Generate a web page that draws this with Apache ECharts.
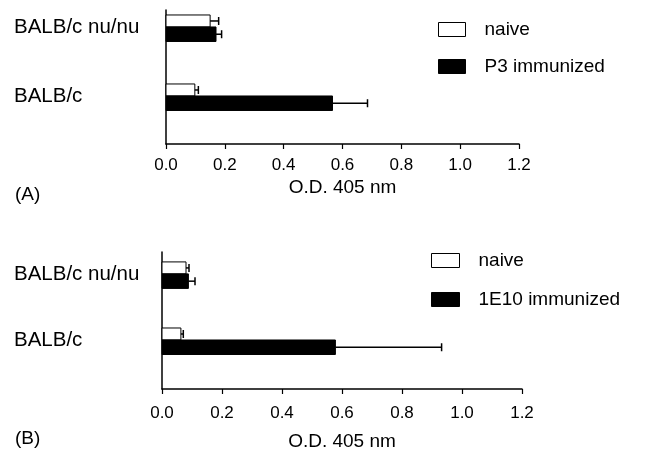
<!DOCTYPE html>
<html>
<head>
<meta charset="utf-8">
<script src="https://cdn.jsdelivr.net/npm/echarts@6/dist/echarts.min.js"></script>
<style>
  html, body { margin: 0; padding: 0; background: #fff; }
  #chart { width: 645px; height: 454px; }
</style>
</head>
<body>
<div id="chart"></div>
<script>
// data
const groups = ["BALB/c nu/nu", "BALB/c"];
const xTicks = [0, 0.2, 0.4, 0.6, 0.8, 1.0, 1.2];

// panel A
const naiveA = [0.15, 0.098];
const naiveErrA = [0.029, 0.012];
const p3A = [0.17, 0.566];
const p3ErrA = [0.019, 0.119];

// panel B
const naiveB = [0.08, 0.063];
const naiveErrB = [0.01, 0.008];
const e10B = [0.088, 0.578];
const e10ErrB = [0.022, 0.354];

// layout: where each group sits on the (hidden) 0..3 vertical scale
const groupYA = [2.62, 1.075];
const groupYB = [2.52, 1.073];

const FONT = "'Liberation Sans', Arial, Helvetica, sans-serif";
const NAIVE_H = 12;
const IMM_H = 14.5;

function rows(values, errs, ys) {
  return values.map((v, i) => [v, ys[i], errs[i]]);
}

function barRenderer(kind) {
  return function (params, api) {
    const v = api.value(0);
    const y = api.value(1);
    const e = api.value(2);
    const start = api.coord([0, y]);
    const end = api.coord([v, y]);
    const errEnd = api.coord([v + e, y]);
    const h = kind === "naive" ? NAIVE_H : IMM_H;
    const top = kind === "naive" ? start[1] - h : start[1];
    const cy = top + h / 2;
    return {
      type: "group",
      children: [
        {
          type: "rect",
          shape: { x: start[0], y: top, width: end[0] - start[0], height: h },
          style: { fill: kind === "naive" ? "#fff" : "#000", stroke: "#000", lineWidth: 1 }
        },
        {
          type: "line",
          shape: { x1: end[0], y1: cy, x2: errEnd[0], y2: cy },
          style: { stroke: "#000", lineWidth: 1.5 }
        },
        {
          type: "line",
          shape: { x1: errEnd[0], y1: cy - 4, x2: errEnd[0], y2: cy + 4 },
          style: { stroke: "#000", lineWidth: 1.5 }
        }
      ]
    };
  };
}

function xAxisFor(gridIndex, labelMargin, nameGap) {
  return {
    gridIndex: gridIndex,
    type: "value",
    min: 0,
    max: 1.2,
    interval: 0.2,
    name: "O.D. 405 nm",
    nameLocation: "middle",
    nameGap: nameGap,
    nameTextStyle: { color: "#000", fontSize: 19, fontFamily: FONT },
    axisLine: { show: true, lineStyle: { color: "#000", width: 1.5 } },
    axisTick: { show: true, length: 5, lineStyle: { color: "#000", width: 1.2 } },
    splitLine: { show: false },
    axisLabel: {
      color: "#000",
      fontSize: 17,
      fontFamily: FONT,
      margin: labelMargin,
      customValues: xTicks,
      formatter: (v) => v.toFixed(1)
    }
  };
}

function yAxisFor(gridIndex, ys, labelMargin) {
  return {
    gridIndex: gridIndex,
    type: "value",
    min: 0,
    max: 3,
    axisLine: { show: true, lineStyle: { color: "#000", width: 1.5 } },
    axisTick: { show: false },
    splitLine: { show: false },
    axisLabel: {
      color: "#000",
      fontSize: 20.5,
      fontFamily: FONT,
      align: "left",
      margin: labelMargin,
      customValues: ys,
      formatter: (v) => {
        const i = ys.findIndex((y) => Math.abs(y - v) < 1e-6);
        return i >= 0 ? groups[i] : "";
      }
    }
  };
}

const legendText = { color: "#000", fontSize: 19, fontFamily: FONT, padding: [0, 0, 0, 14] };

const chart = echarts.init(document.getElementById("chart"), null, { renderer: "canvas" });

const option = {
  backgroundColor: "#fff",
  animation: false,
  textStyle: { fontFamily: FONT },
  title: [
    { text: "(A)", left: 10, top: 180, textStyle: { color: "#000", fontSize: 19, fontWeight: "normal", fontFamily: FONT } },
    { text: "(B)", left: 10, top: 424, textStyle: { color: "#000", fontSize: 19, fontWeight: "normal", fontFamily: FONT } }
  ],
  legend: [
    {
      orient: "vertical",
      left: 433,
      top: 15,
      itemWidth: 27,
      itemHeight: 14,
      itemGap: 18,
      textStyle: legendText,
      data: [
        { name: "naive", icon: "rect", itemStyle: { color: "#fff", borderColor: "#000", borderWidth: 1 } },
        { name: "P3 immunized", icon: "rect", itemStyle: { color: "#000", borderColor: "#000", borderWidth: 1 } }
      ]
    },
    {
      orient: "vertical",
      left: 426,
      top: 246,
      itemWidth: 28,
      itemHeight: 14,
      itemGap: 20,
      textStyle: legendText,
      data: [
        { name: "naive", icon: "rect", itemStyle: { color: "#fff", borderColor: "#000", borderWidth: 1 } },
        { name: "1E10 immunized", icon: "rect", itemStyle: { color: "#000", borderColor: "#000", borderWidth: 1 } }
      ]
    }
  ],
  grid: [
    { left: 166, right: 126, top: 10, height: 134, outerBoundsMode: "none" },
    { left: 162, right: 123, top: 252, height: 137, outerBoundsMode: "none" }
  ],
  xAxis: [xAxisFor(0, 12.5, 34), xAxisFor(1, 16, 43)],
  yAxis: [yAxisFor(0, groupYA, 152), yAxisFor(1, groupYB, 148)],
  series: [
    {
      name: "naive",
      type: "custom",
      xAxisIndex: 0,
      yAxisIndex: 0,
      renderItem: barRenderer("naive"),
      data: rows(naiveA, naiveErrA, groupYA)
    },
    {
      name: "P3 immunized",
      type: "custom",
      xAxisIndex: 0,
      yAxisIndex: 0,
      renderItem: barRenderer("imm"),
      data: rows(p3A, p3ErrA, groupYA)
    },
    {
      name: "naive",
      type: "custom",
      xAxisIndex: 1,
      yAxisIndex: 1,
      renderItem: barRenderer("naive"),
      data: rows(naiveB, naiveErrB, groupYB)
    },
    {
      name: "1E10 immunized",
      type: "custom",
      xAxisIndex: 1,
      yAxisIndex: 1,
      renderItem: barRenderer("imm"),
      data: rows(e10B, e10ErrB, groupYB)
    }
  ]
};

chart.setOption(option);
window.addEventListener("resize", () => chart.resize(), false);
</script>
</body>
</html>
